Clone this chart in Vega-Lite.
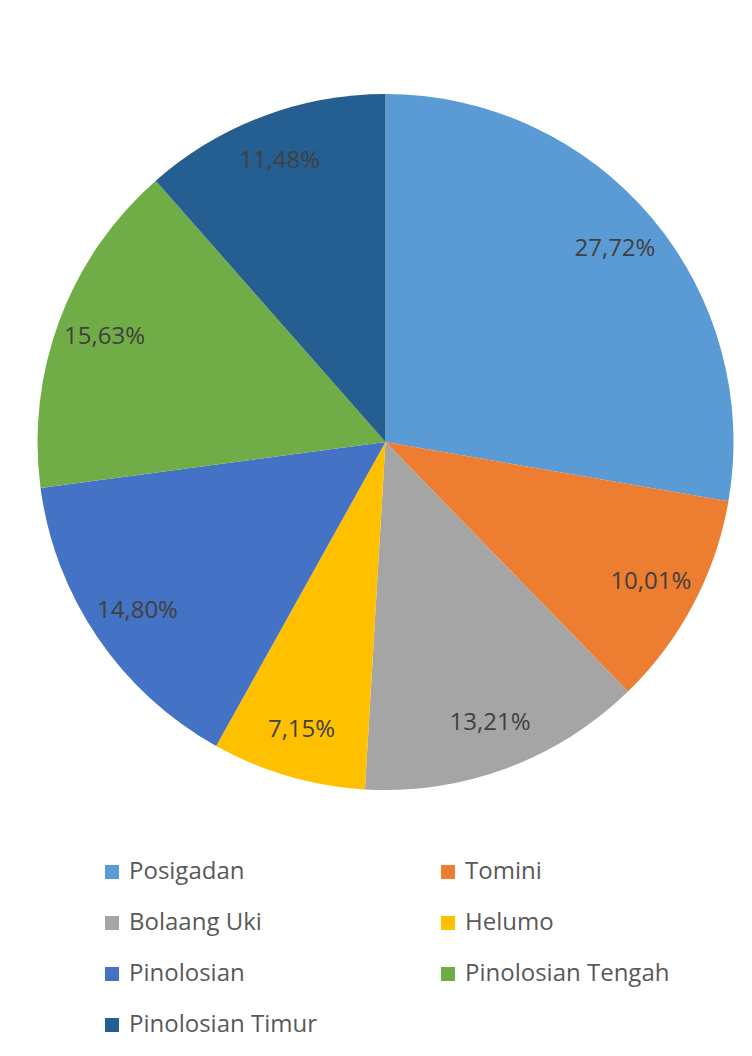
{
  "$schema": "https://vega.github.io/schema/vega-lite/v6.json",
  "autosize": {"type": "fit", "contains": "padding"},
  "width": 752,
  "height": 1056,
  "padding": {"left": 100, "right": 81, "top": 42, "bottom": 19},
  "background": "white",
  "data": {
    "values": [
      {"i": 1, "kecamatan": "Posigadan", "persen": 27.72, "label": "27,72%"},
      {"i": 2, "kecamatan": "Tomini", "persen": 10.01, "label": "10,01%"},
      {"i": 3, "kecamatan": "Bolaang Uki", "persen": 13.21, "label": "13,21%"},
      {"i": 4, "kecamatan": "Helumo", "persen": 7.15, "label": "7,15%"},
      {"i": 5, "kecamatan": "Pinolosian", "persen": 14.80, "label": "14,80%"},
      {"i": 6, "kecamatan": "Pinolosian Tengah", "persen": 15.63, "label": "15,63%"},
      {"i": 7, "kecamatan": "Pinolosian Timur", "persen": 11.48, "label": "11,48%"}
    ]
  },
  "encoding": {
    "theta": {"field": "persen", "type": "quantitative", "stack": true},
    "order": {"field": "i", "type": "quantitative"}
  },
  "layer": [
    {
      "mark": {"type": "arc", "outerRadius": 348},
      "encoding": {
        "color": {
          "field": "kecamatan",
          "type": "nominal",
          "sort": null,
          "scale": {
            "domain": ["Posigadan", "Tomini", "Bolaang Uki", "Helumo", "Pinolosian", "Pinolosian Tengah", "Pinolosian Timur"],
            "range": ["#5B9BD5", "#ED7D31", "#A5A5A5", "#FFC000", "#4472C4", "#70AD47", "#255E91"]
          },
          "legend": {
            "title": null,
            "orient": "bottom",
            "direction": "horizontal",
            "columns": 2,
            "symbolType": "square",
            "symbolSize": 196,
            "symbolStrokeWidth": 0,
            "labelFont": "Open Sans",
            "labelFontSize": 24,
            "labelColor": "#595959",
            "labelOffset": 5,
            "labelLimit": 400,
            "rowPadding": 27,
            "columnPadding": 119,
            "offset": 18
          }
        }
      }
    },
    {
      "mark": {"type": "text", "radius": 300, "font": "Open Sans", "fontSize": 24, "color": "#404040"},
      "encoding": {
        "text": {"field": "label", "type": "nominal"}
      }
    }
  ],
  "config": {"view": {"stroke": null}}
}
